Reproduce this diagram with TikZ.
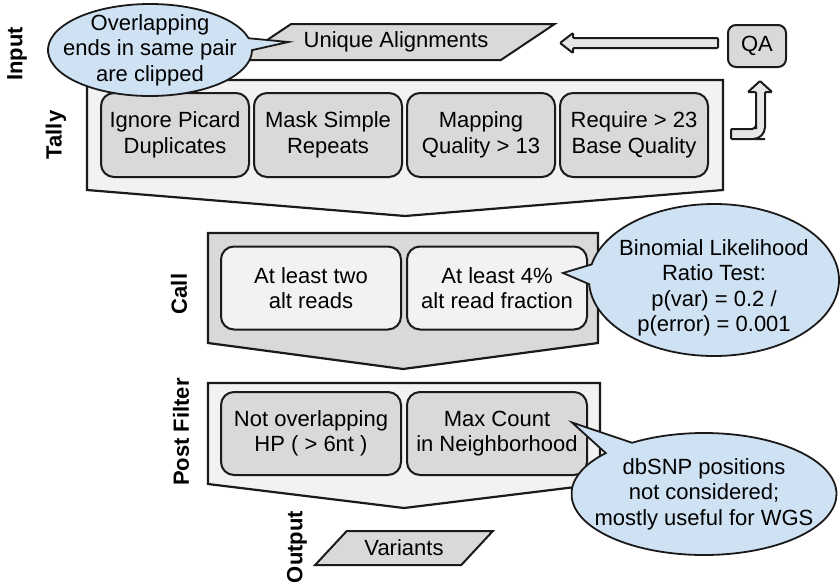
\documentclass[tikz,border=0pt]{standalone}
\usepackage{fontspec}
\setmainfont{Liberation Sans}
\usepackage{tikz}
\usetikzlibrary{positioning}
\usetikzlibrary{shapes.geometric,shapes.callouts}
\definecolor{paleGray}{HTML}{F2F2F2}
\definecolor{midGray}{HTML}{D9D9D9}
\definecolor{arrowGray}{HTML}{E6E6E6}
\definecolor{noteBlue}{HTML}{CFE2F3}
\definecolor{lineGray}{HTML}{1A1A1A}
\newcommand{\flowfont}{\fontsize{22}{25.5}\selectfont}
\tikzstyle{stage}=[rectangle, inner sep=0pt, outer sep=0pt]
\tikzstyle{stage edge}=[draw=lineGray, line width=2.2pt]
\tikzstyle{rule box}=[rectangle, rounded corners=13pt, draw=lineGray, line width=2pt, align=center, inner sep=0pt, outer sep=0pt, font=\flowfont]
\tikzstyle{tally rule}=[rule box, fill=midGray, minimum width=148pt, minimum height=84pt]
\tikzstyle{call rule}=[rule box, fill=paleGray, minimum width=180pt, minimum height=83pt]
\tikzstyle{post rule}=[rule box, fill=midGray, minimum width=180pt, minimum height=83pt]
\tikzstyle{data io}=[trapezium, trapezium stretches=true, draw=lineGray, line width=2pt, fill=midGray, font=\flowfont]
\tikzstyle{note bubble}=[ellipse callout, draw=lineGray, line width=1.8pt, fill=noteBlue, align=center, inner xsep=-20pt, inner ysep=-12pt, font=\flowfont]
\tikzstyle{fat arrow}=[draw=lineGray, line width=2pt, fill=arrowGray, rounded corners=1pt]
\tikzstyle{side label}=[rotate=90, font=\flowfont\bfseries]
\newcommand{\stagenode}[4][]{
  \node [stage, minimum width=#3, minimum height=#4, #1] (#2) {}
}
\newcommand{\chevron}[3]{
  \draw [stage edge, fill=#2] (#1.north west) -- (#1.north east) -- (#1.south east)
    -- ([yshift=-#3]#1.south) -- (#1.south west) -- cycle
}

\begin{document}
\begin{tikzpicture}[x=1pt, y=-1pt, node distance=5pt]
  \useasboundingbox (0,0) rectangle (840,582);

  \stagenode[at={(405,135)}]{tally}{636pt}{110pt};
  \chevron{tally}{paleGray}{26pt};
  \node [tally rule, right=14pt of tally.west] (picard) {Ignore Picard\\Duplicates};
  \node [tally rule, right=5pt of picard] (repeats) {Mask Simple\\Repeats};
  \node [tally rule, right=5pt of repeats] (mapq) {Mapping\\Quality > 13};
  \node [tally rule, right=5pt of mapq] (baseq) {Require > 23\\Base Quality};

  \stagenode[below=43pt of tally, xshift=-2pt]{call}{390pt}{110pt};
  \chevron{call}{midGray}{26pt};
  \node [call rule, right=13pt of call.west] (tworeads) {At least two\\alt reads};
  \node [call rule, right=6pt of tworeads] (fraction) {At least 4\%\\alt read fraction};

  \stagenode[below=40pt of call, xshift=1pt]{post}{392pt}{101pt};
  \chevron{post}{paleGray}{24pt};
  \node [post rule, right=13pt of post.west] (homopolymer) {Not overlapping\\HP ( > 6nt )};
  \node [post rule, right=6pt of homopolymer] (neighborhood) {Max Count\\in Neighborhood};

  \node [data io, trapezium left angle=29, trapezium right angle=151, minimum width=318pt, minimum height=36pt, above=19pt of tally, xshift=-9pt] (alignments) {Unique Alignments};
  \node [data io, trapezium left angle=44, trapezium right angle=136, minimum width=178pt, minimum height=34pt, below=46pt of post] (variants) {Variants};
  \node [rule box, fill=midGray, rounded corners=8pt, minimum width=58pt, minimum height=42pt] (qa) at (757,46) {QA};

  \coordinate (qatail) at ([shift={(-10pt,3pt)}]qa.west);
  \draw [fat arrow] (qatail) ++(0,-5) -- ++(-145,0) -- ++(0,-5) -- ++(-13,10) -- ++(13,10) -- ++(0,-5) -- ++(145,0) -- cycle;
  \coordinate (tallytail) at ([shift={(8pt,1pt)}]tally.east);
  \draw [fat arrow] (tallytail) ++(0,-5) -- ++(21,0) [rounded corners=4pt] -- ++(4,0) -- ++(0,-4) [rounded corners=1pt] -- ++(0,-33) -- ++(-8,0) -- ++(12,-11) -- ++(12,11) -- ++(-7,0) -- ++(0,35) [rounded corners=12pt] -- ++(0,12) -- ++(-12,0) [rounded corners=1pt] -- ++(-22,0) -- cycle;

  \node [note bubble, minimum width=204pt, minimum height=92pt, callout absolute pointer={([xshift=26pt]alignments.west)}] (clipnote) at (150,50) {Overlapping\\ends in same pair\\are clipped};
  \node [note bubble, minimum width=250pt, minimum height=152pt, callout absolute pointer={([shift={(-24pt,15pt)}]fraction.east)}] (binomial) at (714,280) {\rule{0pt}{32pt}Binomial Likelihood\\Ratio Test:\\p(var) = 0.2 /\\p(error) = 0.001};
  \node [note bubble, minimum width=265pt, minimum height=122pt, callout absolute pointer={([shift={(-15pt,11pt)}]neighborhood.east)}] (dbsnp) at (704,494) {dbSNP positions\\not considered;\\mostly useful for WGS};

  \node [side label] (inputlabel) at (17,54) {Input};
  \node [side label] (tallylabel) at (56,135) {Tally};
  \node [side label] (calllabel) at (179,294) {Call};
  \node [side label] (postlabel) at (181,432) {Post Filter};
  \node [side label] (outputlabel) at (297,547) {Output};
\end{tikzpicture}
\end{document}
